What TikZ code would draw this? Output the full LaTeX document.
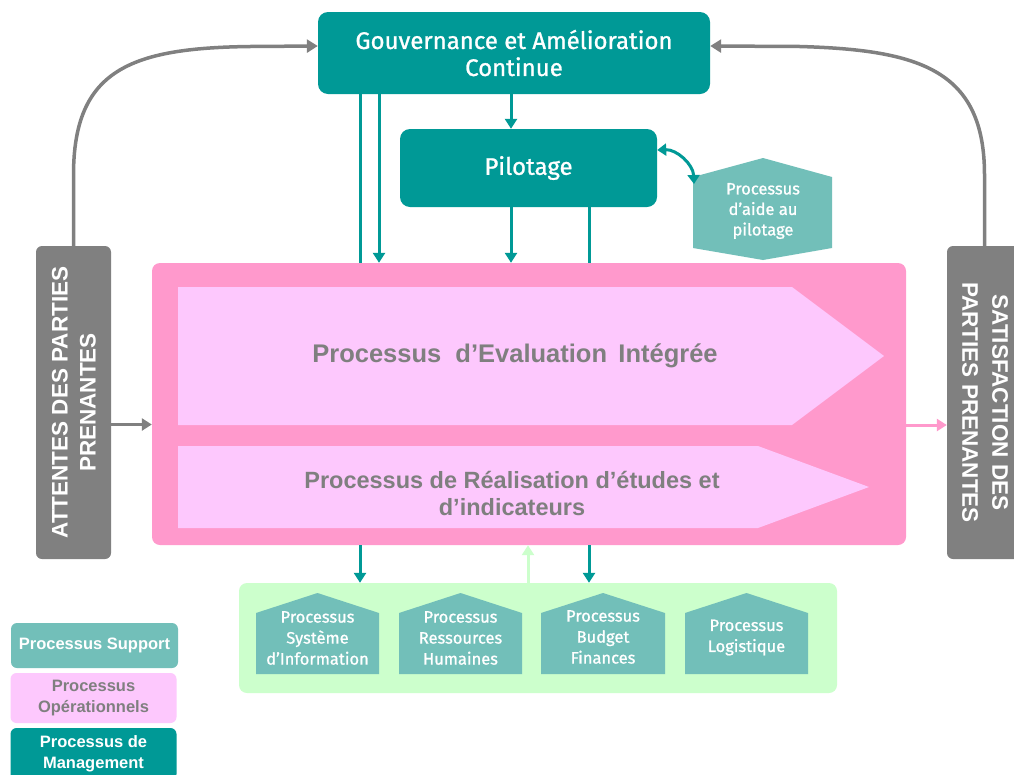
\documentclass[tikz,border=0pt]{standalone}
\usepackage{fontspec}
\setmainfont{Liberation Sans}
\newfontfamily\fs{Fira Sans}[FakeBold=1]
\newfontfamily\ar{Liberation Sans}
\usetikzlibrary{arrows.meta,calc}
\definecolor{dteal}{RGB}{0,153,150}
\definecolor{lteal}{RGB}{114,191,185}
\definecolor{pinkb}{RGB}{255,153,204}
\definecolor{pinkl}{RGB}{253,200,253}
\definecolor{lgreen}{RGB}{204,255,204}
\definecolor{gbar}{RGB}{128,128,128}
\definecolor{gtext}{RGB}{127,127,127}
\tikzset{
  mgmt/.style={fill=dteal, rounded corners=10pt, text=white, align=center, inner sep=0pt},
  greybar/.style={fill=gbar, rounded corners=6pt, inner sep=0pt},
  legbox/.style={rounded corners=6pt, inner sep=0pt, align=center, minimum width=166pt, font=\ar\bfseries\fontsize{16.5}{21}\selectfont},
  tarrow/.style={draw=dteal, line width=3pt, -{Triangle[width=12pt,length=10pt]}},
  tline/.style={draw=dteal, line width=3pt},
  garrow/.style={draw=gbar, line width=3.5pt, -{Triangle[width=13pt,length=11pt]}},
  housetxt/.style={text=white, align=center, font=\fs\fontsize{16.5}{21}\selectfont},
}
\begin{document}
\begin{tikzpicture}[x=1pt,y=-1pt]
\useasboundingbox (0,0) rectangle (1014,774);
\fill[white] (0,0) rectangle (1014,774);

% main boxes
\node[mgmt, minimum width=392pt, minimum height=82pt, font=\fs\fontsize{24}{27}\selectfont] (gov) at (514,53) {Gouvernance et Amélioration\\Continue};
\node[mgmt, minimum width=257pt, minimum height=78pt, font=\fs\fontsize{24}{27}\selectfont] (pil) at (528.5,168) {Pilotage};

% hexagon
\fill[lteal] (763,158) -- (832,177) -- (832,248) -- (763,260) -- (693,248) -- (693,177) -- cycle;
\node[text=white, align=center, font=\fs\fontsize{16.5}{20.5}\selectfont] (hex) at (763,211) {Processus\\d’aide au\\pilotage};
\coordinate (hexul) at (694,184);

% grey bars
\node[greybar, minimum width=75pt, minimum height=313pt] (lbar) at (73.5,402.5) {};
\node[greybar, minimum width=75pt, minimum height=313pt] (rbar) at (984.5,402.5) {};
\node[rotate=90, text=white, align=center, font=\ar\bfseries\fontsize{22.5}{28}\selectfont] (ltxt) at (74,402.5) {ATTENTES DES PARTIES\\PRENANTES};
\node[rotate=-90, text=white, align=center, font=\ar\bfseries\fontsize{22.5}{30}\selectfont] (rtxt) at (985,402.5) {SATISFACTION DES\\PARTIES PRENANTES};

% pink block
\node[fill=pinkb, rounded corners=8pt, minimum width=754pt, minimum height=282pt, inner sep=0pt] (pink) at (529,404) {};
\fill[pinkl] (178,287) -- (792,287) -- (884,356) -- (792,425) -- (178,425) -- cycle;
\fill[pinkl] (178,446) -- (758,446) -- (869,487) -- (758,528) -- (178,528) -- cycle;
\node[text=gtext, font=\ar\bfseries\fontsize{25.5}{30}\selectfont] (eval) at (515,356) {Processus \ d’Evaluation \,Intégrée};
\node[text=gtext, align=center, font=\ar\bfseries\fontsize{23.5}{27}\selectfont] (real) at (512,493) {Processus de Réalisation d’études et\\d’indicateurs};

% support block
\node[fill=lgreen, rounded corners=8pt, minimum width=598pt, minimum height=110pt, inner sep=0pt] (sup) at (538,638) {};
\foreach \L/\R in {256/379, 399/522, 541/665, 685/808}{
  \fill[lteal] (\L,613) -- ({(\L+\R)/2},593) -- (\R,613) -- (\R,674) -- (\L,674) -- cycle;
}
\node[housetxt] (h1) at (317.5,638) {Processus\\Système\\d’Information};
\node[housetxt] (h2) at (460.5,638) {Processus\\Ressources\\Humaines};
\node[housetxt] (h3) at (603,637) {Processus\\Budget\\Finances};
\node[housetxt] (h4) at (746.5,637.5) {Processus\\Logistique};

% legend
\node[legbox, fill=lteal, text=white, minimum width=167pt, minimum height=45pt] (lg1) at (94.5,645.5) {Processus Support};
\node[legbox, fill=pinkl, text=gtext, minimum height=50pt] (lg2) at (93.5,698) {Processus\\Opérationnels};
\node[legbox, fill=dteal, text=white, minimum height=52pt] (lg3) at (93.5,754) {Processus de\\Management};

% vertical x positions
\coordinate (x360) at (360,0);
\coordinate (x379) at (379,0);
\coordinate (x511) at (511,0);
\coordinate (x528) at (528,0);
\coordinate (x589) at (589,0);

% connectors top
\draw[tarrow] (gov.south -| x511) -- (pil.north -| x511);
\draw[tline] (gov.south -| x360) -- (pink.north -| x360);
\draw[tarrow] (gov.south -| x379) -- (pink.north -| x379);
\draw[tarrow] (pil.south -| x511) -- (pink.north -| x511);
\draw[tline] (pil.south -| x589) -- (pink.north -| x589);
\draw[draw=dteal, line width=3pt, {Triangle[width=12pt,length=9pt]}-{Triangle[width=12pt,length=9pt]}] ([yshift=18pt]pil.east) to[bend left=45] (hexul);

% connectors bottom
\draw[tarrow] (pink.south -| x360) -- (sup.north -| x360);
\draw[tarrow] (pink.south -| x589) -- (sup.north -| x589);
\draw[draw=lgreen, line width=3pt, -{Triangle[width=12pt,length=10pt]}] (sup.north -| x528) -- (pink.south -| x528);

% side connectors
\draw[draw=gbar, line width=3pt, -{Triangle[width=12pt,length=10pt]}] ([yshift=-22pt]lbar.east) -- ([yshift=-22pt]lbar.east -| pink.west);
\draw[draw=pinkb, line width=3pt, -{Triangle[width=12pt,length=10pt]}] ([yshift=-21pt]pink.east) -- ([yshift=-21pt]pink.east -| rbar.west);

% curved grey arrows
\draw[garrow] (lbar.north) -- (73.5,175) .. controls (73.5,70) and (130,48) .. (250,46.5) -- ([yshift=7pt]gov.west);
\draw[garrow] (rbar.north) -- (984.5,175) .. controls (984.5,70) and (920,50) .. (800,46.5) -- ([yshift=7pt]gov.east);
\end{tikzpicture}
\end{document}
